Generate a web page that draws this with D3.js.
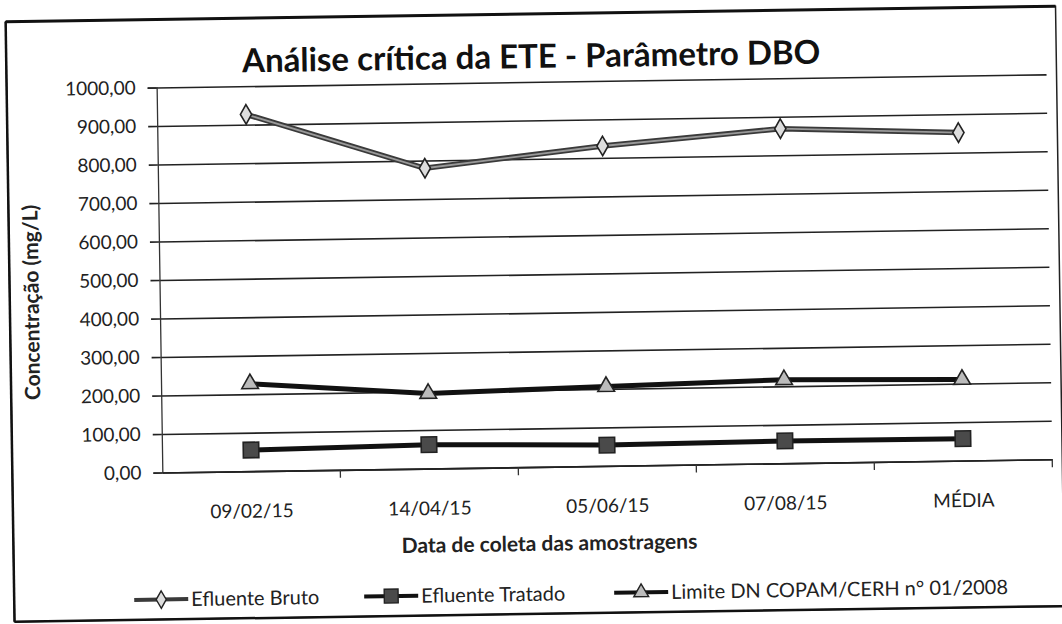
<!DOCTYPE html>
<html>
<head>
<meta charset="utf-8">
<script src="https://cdn.jsdelivr.net/npm/d3@7"></script>
<style>
  body { margin: 0; background: #fff; }
  svg { display: block; font-family: Lato, 'Open Sans', sans-serif; }
</style>
</head>
<body>
<div id="container"></div>
<script>
// Data
const categories = ['09/02/15', '14/04/15', '05/06/15', '07/08/15', 'MÉDIA'];
const efluenteBruto = [927, 780, 831, 869, 852];
const efluenteTratado = [55, 62, 54, 58, 57];
const limiteCopam = [227, 195, 206, 217, 211];
const yTicks = [0, 100, 200, 300, 400, 500, 600, 700, 800, 900, 1000];

const seriesNames = ['Efluente Bruto', 'Efluente Tratado', 'Limite DN COPAM/CERH n° 01/2008'];

const svgWidth = 1062;
const svgHeight = 624;
const plotLeft = 160;
const plotRight = 1050;
const plotTop = 82;
const plotBottom = 467;

const svg = d3
  .select('#container')
  .append('svg')
  .attr('width', svgWidth)
  .attr('height', svgHeight);

// the scan is a little tilted, so the whole sheet is too
const sheet = svg.append('g').attr('transform', 'rotate(-0.85, 531, 312)');

// outer frame
sheet
  .append('rect')
  .attr('x', 10)
  .attr('y', 14)
  .attr('width', 1050)
  .attr('height', 600)
  .attr('fill', '#fff')
  .attr('stroke', '#222')
  .attr('stroke-width', 1.5);
sheet
  .append('line')
  .attr('x1', 10).attr('x2', 1060)
  .attr('y1', 14).attr('y2', 14)
  .attr('stroke', '#111')
  .attr('stroke-width', 3);
sheet
  .append('line')
  .attr('x1', 10).attr('x2', 10)
  .attr('y1', 14).attr('y2', 614)
  .attr('stroke', '#111')
  .attr('stroke-width', 2.5);
sheet
  .append('line')
  .attr('x1', 10).attr('x2', 1060)
  .attr('y1', 614).attr('y2', 614)
  .attr('stroke', '#111')
  .attr('stroke-width', 2.5);

// SCALES
const xScale = d3.scaleBand().domain(categories).range([plotLeft, plotRight]);
const xCenter = d => xScale(d) + xScale.bandwidth() / 2;

const yScale = d3.scaleLinear().domain([0, 1000]).range([plotBottom, plotTop]);

// GRIDLINES
const grid = sheet
  .append('g')
  .attr('transform', `translate(${plotLeft}, 0)`)
  .call(
    d3.axisLeft(yScale)
      .tickValues(yTicks)
      .tickSizeInner(-(plotRight - plotLeft))
      .tickSizeOuter(0)
      .tickFormat('')
  );
grid.select('.domain').remove();
grid.selectAll('.tick line').attr('stroke', '#222').attr('stroke-width', 1.6);

// Y-AXIS
const yAxis = sheet
  .append('g')
  .attr('id', 'y-axis')
  .attr('transform', `translate(${plotLeft}, 0)`)
  .call(
    d3.axisLeft(yScale)
      .tickValues(yTicks)
      .tickSize(9)
      .tickPadding(12)
      .tickFormat(d => d.toFixed(2).replace('.', ','))
  );
yAxis.select('.domain').attr('stroke', '#333').attr('stroke-width', 1.3);
yAxis.selectAll('.tick line').attr('stroke', '#222').attr('stroke-width', 1.6);
yAxis
  .selectAll('text')
  .attr('font-family', 'Lato, sans-serif')
  .attr('font-size', 19)
  .attr('fill', '#222');

// X-AXIS
const xAxis = sheet
  .append('g')
  .attr('id', 'x-axis')
  .attr('transform', `translate(0, ${plotBottom})`)
  .call(d3.axisBottom(xScale).tickSize(0).tickPadding(33));
xAxis.select('.domain').attr('stroke', '#222').attr('stroke-width', 1.6);
xAxis
  .selectAll('text')
  .attr('font-family', 'Lato, sans-serif')
  .attr('font-size', 19)
  .attr('fill', '#222');

// tick marks between categories
sheet
  .append('g')
  .selectAll('line')
  .data(categories)
  .enter()
  .append('line')
  .attr('x1', d => xScale(d) + xScale.bandwidth())
  .attr('x2', d => xScale(d) + xScale.bandwidth())
  .attr('y1', plotBottom)
  .attr('y2', plotBottom + 8)
  .attr('stroke', '#333')
  .attr('stroke-width', 1.3);

// TITLES
sheet
  .append('text')
  .attr('x', 535)
  .attr('y', 68)
  .attr('text-anchor', 'middle')
  .attr('font-size', 33)
  .attr('font-weight', 'bold')
  .attr('fill', '#111')
  .text('Análise crítica da ETE - Parâmetro DBO');

sheet
  .append('text')
  .attr('transform', 'translate(39, 295) rotate(-90)')
  .attr('text-anchor', 'middle')
  .attr('font-size', 21)
  .attr('font-weight', 'bold')
  .attr('fill', '#222')
  .text('Concentração (mg/L)');

sheet
  .append('text')
  .attr('x', 546)
  .attr('y', 551)
  .attr('text-anchor', 'middle')
  .attr('font-size', 21)
  .attr('font-weight', 'bold')
  .attr('fill', '#222')
  .text('Data de coleta das amostragens');

// SERIES
const series = [
  { name: seriesNames[0], values: efluenteBruto, symbol: d3.symbolDiamond, size: 110, fill: '#ddd' },
  { name: seriesNames[1], values: efluenteTratado, symbol: d3.symbolSquare, size: 240, fill: '#4a4a4a' },
  { name: seriesNames[2], values: limiteCopam, symbol: d3.symbolTriangle, size: 120, fill: '#bbb' }
];

const line = d3
  .line()
  .x((d, i) => xCenter(categories[i]))
  .y(d => yScale(d));

const drawLine = (sel, s) => {
  if (s.symbol === d3.symbolDiamond) {
    sel.attr('stroke', '#3a3a3a').attr('stroke-width', 5.5);
  } else {
    sel.attr('stroke', '#111').attr('stroke-width', 5);
  }
};

series.forEach(s => {
  const g = sheet.append('g').attr('class', 'series');
  g.append('path')
    .datum(s.values)
    .attr('d', line)
    .attr('fill', 'none')
    .call(drawLine, s);
  if (s.symbol === d3.symbolDiamond) {
    g.append('path')
      .datum(s.values)
      .attr('d', line)
      .attr('fill', 'none')
      .attr('stroke', '#999')
      .attr('stroke-width', 1.8);
  }
  g.selectAll('.marker')
    .data(s.values)
    .enter()
    .append('path')
    .attr('class', 'marker')
    .attr('d', d3.symbol().type(s.symbol).size(s.size))
    .attr('transform', (d, i) => `translate(${xCenter(categories[i])}, ${yScale(d)})`)
    .attr('fill', s.fill)
    .attr('stroke', '#222')
    .attr('stroke-width', 1.6);
});

// LEGEND
const legendX = [130, 360, 610];
const legend = sheet
  .selectAll('.legend')
  .data(series)
  .enter()
  .append('g')
  .attr('class', 'legend')
  .attr('transform', (d, i) => `translate(${legendX[i]}, 594)`);

legend.each(function (s) {
  const g = d3.select(this);
  g.append('line')
    .attr('x1', 0).attr('x2', 54)
    .attr('y1', 0).attr('y2', 0)
    .call(drawLine, s)
    .attr('stroke-width', 4);
  g.append('path')
    .attr('d', d3.symbol().type(s.symbol).size(s.size * 0.8))
    .attr('transform', 'translate(27, 0)')
    .attr('fill', s.fill)
    .attr('stroke', '#222')
    .attr('stroke-width', 1.4);
  g.append('text')
    .attr('x', 57)
    .attr('y', 7)
    .attr('font-size', 20)
    .attr('fill', '#222')
    .text(s.name);
});
</script>
</body>
</html>
